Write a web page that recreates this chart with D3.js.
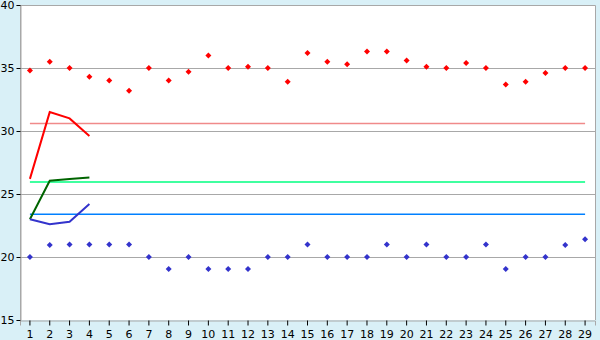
<!DOCTYPE html>
<html><head><meta charset="utf-8">
<script src="https://cdn.jsdelivr.net/npm/d3@7"></script>
<style>body{margin:0;background:#d9f0f7;}svg{display:block;}</style>
</head><body>
<svg id="c" width="600" height="340"></svg>
<script>
const categories = d3.range(1, 30).map(String);
const highPoints = [34.8,35.5,35,34.3,34,33.2,35,34,34.7,36,35,35.1,35,33.9,36.2,35.5,35.3,36.3,36.3,35.6,35.1,35,35.4,35,33.7,33.9,34.6,35,35];
const lowPoints = [20,20.95,21,21,21,21,20,19.05,20,19.05,19.05,19.05,20,20,21,20,20,20,21,20,21,20,20,21,19.05,20,20,20.95,21.4];
const redLine = [26.2,31.5,31,29.6];
const greenLine = [23,26.05,26.2,26.3];
const blueLine = [23,22.6,22.8,24.2];
const refLines = [
  {value:30.6, color:"#f08a8a"},
  {value:25.95, color:"#00ff80"},
  {value:23.4, color:"#0080ff"}
];
const yTicks = [15,20,25,30,35,40];

const svg = d3.select("#c");
const L=20, R=595, T=5, B=320;
const x = d3.scaleBand().domain(categories).range([L,R]);
const cx = c => x(c) + x.bandwidth()/2;
const y = d3.scaleLinear().domain([15,40]).range([B,T]);

svg.append("rect").attr("x",L).attr("y",T).attr("width",R-L).attr("height",B-T).attr("fill","#fff");

// gridlines
svg.append("g").selectAll("line").data(yTicks.filter(v=>v>15 && v<40)).join("line")
  .attr("x1",L).attr("x2",R).attr("y1",d=>Math.round(y(d))+0.5).attr("y2",d=>Math.round(y(d))+0.5)
  .attr("stroke","#a8a8a8").attr("stroke-width",1);

// border
svg.append("path").attr("d",`M${L+0.5},${B}V${T+0.5}H${R+0.5}V${B}`).attr("fill","none").attr("stroke","#a8a8a8");

// axes
const yAxis = d3.axisLeft(y).tickValues(yTicks).tickSize(4).tickPadding(2);
const gy = svg.append("g").attr("transform",`translate(${L+0.5},0)`).call(yAxis);
const xAxis = d3.axisBottom(x).tickSize(5).tickPadding(5);
const gx = svg.append("g").attr("transform",`translate(0,${B+0.5})`).call(xAxis);
[gy,gx].forEach(g=>{
  g.select(".domain").attr("stroke","#a8a8a8");
  g.selectAll(".tick line").attr("stroke","#000");
  g.selectAll("text").attr("font-family","DejaVu Sans, Verdana, sans-serif").attr("font-size",11).attr("fill","#000");
});
gy.selectAll(".tick text").attr("dy","0.36em");

// reference lines
svg.append("g").selectAll("line").data(refLines).join("line")
  .attr("x1",cx(categories[0])).attr("x2",cx(categories[28]))
  .attr("y1",d=>y(d.value)).attr("y2",d=>y(d.value))
  .attr("stroke",d=>d.color).attr("stroke-width",1.5);

// lines
const line = d3.line().x((d,i)=>cx(categories[i])).y(d=>y(d));
[[redLine,"#ff0000"],[greenLine,"#006400"],[blueLine,"#3333cc"]].forEach(([data,col])=>{
  svg.append("path").datum(data).attr("d",line).attr("fill","none").attr("stroke",col).attr("stroke-width",2);
});

// points
const diamond = "M0,-3L3,0L0,3L-3,0Z";
svg.append("g").selectAll("path").data(highPoints).join("path")
  .attr("d",diamond).attr("transform",(d,i)=>`translate(${cx(categories[i])},${y(d)})`).attr("fill","#ff0000");
svg.append("g").selectAll("path").data(lowPoints).join("path")
  .attr("d",diamond).attr("transform",(d,i)=>`translate(${cx(categories[i])},${y(d)})`).attr("fill","#3333cc");
</script>
</body></html>
